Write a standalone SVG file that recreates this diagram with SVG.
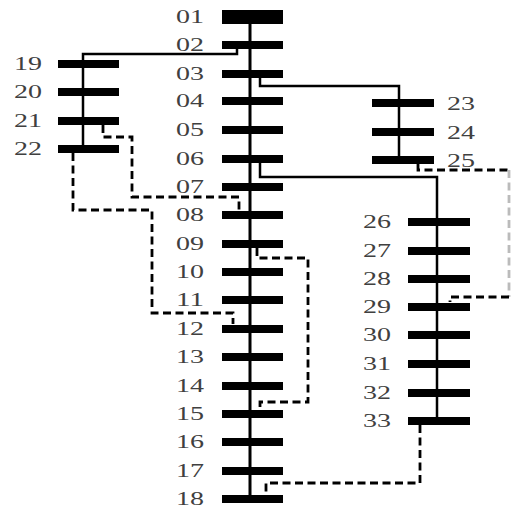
<svg xmlns="http://www.w3.org/2000/svg" width="512" height="509" viewBox="0 0 512 509">
<style>
.bar{fill:#000}
.lbl{font-family:"Liberation Serif","Times New Roman",serif;font-size:18px;fill:#404040}
.r{text-anchor:end}
.line{stroke:#000;stroke-width:2.5;fill:none}
.trunk{stroke:#000;stroke-width:3;fill:none}
.tie{stroke:#000;stroke-width:2.8;fill:none;stroke-dasharray:8 4.5}
</style>
<rect width="512" height="509" fill="#fff"/>
<g id="connectors">
<path class="trunk" d="M250 17V499"/>
<path class="line" d="M237 45V54H83V149"/>
<path class="line" d="M260 74V86H399V160"/>
<path class="line" d="M260 159V177H437V421"/>
<path class="tie" d="M103 125V137H132V197H239V210"/>
<path class="tie" d="M73 153V210H152V313H233V324"/>
<path class="tie" d="M257 248V258H308V402H260V410"/>
<path class="tie" d="M420 425V483H266V500"/>
<path class="tie" d="M418 164V170H509"/>
<path class="tie" d="M509 170V297" style="stroke:#bbb"/>
<path class="tie" d="M509 297H450V302"/>
</g>
<g id="n01"><rect class="bar" x="222" y="10" width="61" height="14"/><text class="lbl r" x="204" y="23" textLength="28" lengthAdjust="spacingAndGlyphs">01</text></g>
<g id="n02"><rect class="bar" x="222" y="41" width="61" height="8"/><text class="lbl r" x="204" y="51" textLength="28" lengthAdjust="spacingAndGlyphs">02</text></g>
<g id="n03"><rect class="bar" x="222" y="70" width="61" height="8"/><text class="lbl r" x="204" y="80" textLength="28" lengthAdjust="spacingAndGlyphs">03</text></g>
<g id="n04"><rect class="bar" x="222" y="97" width="61" height="8"/><text class="lbl r" x="204" y="107" textLength="28" lengthAdjust="spacingAndGlyphs">04</text></g>
<g id="n05"><rect class="bar" x="222" y="126" width="61" height="8"/><text class="lbl r" x="204" y="136" textLength="28" lengthAdjust="spacingAndGlyphs">05</text></g>
<g id="n06"><rect class="bar" x="222" y="155" width="61" height="8"/><text class="lbl r" x="204" y="165" textLength="28" lengthAdjust="spacingAndGlyphs">06</text></g>
<g id="n07"><rect class="bar" x="222" y="183" width="61" height="8"/><text class="lbl r" x="204" y="193" textLength="28" lengthAdjust="spacingAndGlyphs">07</text></g>
<g id="n08"><rect class="bar" x="222" y="211" width="61" height="8"/><text class="lbl r" x="204" y="221" textLength="28" lengthAdjust="spacingAndGlyphs">08</text></g>
<g id="n09"><rect class="bar" x="222" y="240" width="61" height="8"/><text class="lbl r" x="204" y="250" textLength="28" lengthAdjust="spacingAndGlyphs">09</text></g>
<g id="n10"><rect class="bar" x="222" y="268" width="61" height="8"/><text class="lbl r" x="204" y="278" textLength="28" lengthAdjust="spacingAndGlyphs">10</text></g>
<g id="n11"><rect class="bar" x="222" y="296" width="61" height="8"/><text class="lbl r" x="204" y="306" textLength="28" lengthAdjust="spacingAndGlyphs">11</text></g>
<g id="n12"><rect class="bar" x="222" y="325" width="61" height="8"/><text class="lbl r" x="204" y="335" textLength="28" lengthAdjust="spacingAndGlyphs">12</text></g>
<g id="n13"><rect class="bar" x="222" y="353" width="61" height="8"/><text class="lbl r" x="204" y="363" textLength="28" lengthAdjust="spacingAndGlyphs">13</text></g>
<g id="n14"><rect class="bar" x="222" y="382" width="61" height="8"/><text class="lbl r" x="204" y="392" textLength="28" lengthAdjust="spacingAndGlyphs">14</text></g>
<g id="n15"><rect class="bar" x="222" y="410" width="61" height="8"/><text class="lbl r" x="204" y="420" textLength="28" lengthAdjust="spacingAndGlyphs">15</text></g>
<g id="n16"><rect class="bar" x="222" y="438" width="61" height="8"/><text class="lbl r" x="204" y="448" textLength="28" lengthAdjust="spacingAndGlyphs">16</text></g>
<g id="n17"><rect class="bar" x="222" y="467" width="61" height="8"/><text class="lbl r" x="204" y="477" textLength="28" lengthAdjust="spacingAndGlyphs">17</text></g>
<g id="n18"><rect class="bar" x="222" y="495" width="61" height="8"/><text class="lbl r" x="204" y="505" textLength="28" lengthAdjust="spacingAndGlyphs">18</text></g>
<g id="n19"><rect class="bar" x="58" y="60" width="61" height="8"/><text class="lbl r" x="42" y="70" textLength="28" lengthAdjust="spacingAndGlyphs">19</text></g>
<g id="n20"><rect class="bar" x="58" y="88" width="61" height="8"/><text class="lbl r" x="42" y="98" textLength="28" lengthAdjust="spacingAndGlyphs">20</text></g>
<g id="n21"><rect class="bar" x="58" y="117" width="61" height="8"/><text class="lbl r" x="42" y="127" textLength="28" lengthAdjust="spacingAndGlyphs">21</text></g>
<g id="n22"><rect class="bar" x="58" y="145" width="61" height="8"/><text class="lbl r" x="42" y="155" textLength="28" lengthAdjust="spacingAndGlyphs">22</text></g>
<g id="n23"><rect class="bar" x="372" y="99" width="62" height="8"/><text class="lbl" x="447" y="110" textLength="28" lengthAdjust="spacingAndGlyphs">23</text></g>
<g id="n24"><rect class="bar" x="372" y="128" width="62" height="8"/><text class="lbl" x="447" y="139" textLength="28" lengthAdjust="spacingAndGlyphs">24</text></g>
<g id="n25"><rect class="bar" x="372" y="156" width="62" height="8"/><text class="lbl" x="447" y="167" textLength="28" lengthAdjust="spacingAndGlyphs">25</text></g>
<g id="n26"><rect class="bar" x="408" y="218" width="62" height="8"/><text class="lbl r" x="391" y="228" textLength="28" lengthAdjust="spacingAndGlyphs">26</text></g>
<g id="n27"><rect class="bar" x="408" y="247" width="62" height="8"/><text class="lbl r" x="391" y="257" textLength="28" lengthAdjust="spacingAndGlyphs">27</text></g>
<g id="n28"><rect class="bar" x="408" y="275" width="62" height="8"/><text class="lbl r" x="391" y="285" textLength="28" lengthAdjust="spacingAndGlyphs">28</text></g>
<g id="n29"><rect class="bar" x="408" y="303" width="62" height="8"/><text class="lbl r" x="391" y="313" textLength="28" lengthAdjust="spacingAndGlyphs">29</text></g>
<g id="n30"><rect class="bar" x="408" y="331" width="62" height="8"/><text class="lbl r" x="391" y="341" textLength="28" lengthAdjust="spacingAndGlyphs">30</text></g>
<g id="n31"><rect class="bar" x="408" y="360" width="62" height="8"/><text class="lbl r" x="391" y="370" textLength="28" lengthAdjust="spacingAndGlyphs">31</text></g>
<g id="n32"><rect class="bar" x="408" y="389" width="62" height="8"/><text class="lbl r" x="391" y="399" textLength="28" lengthAdjust="spacingAndGlyphs">32</text></g>
<g id="n33"><rect class="bar" x="408" y="417" width="62" height="8"/><text class="lbl r" x="391" y="427" textLength="28" lengthAdjust="spacingAndGlyphs">33</text></g>
</svg>
